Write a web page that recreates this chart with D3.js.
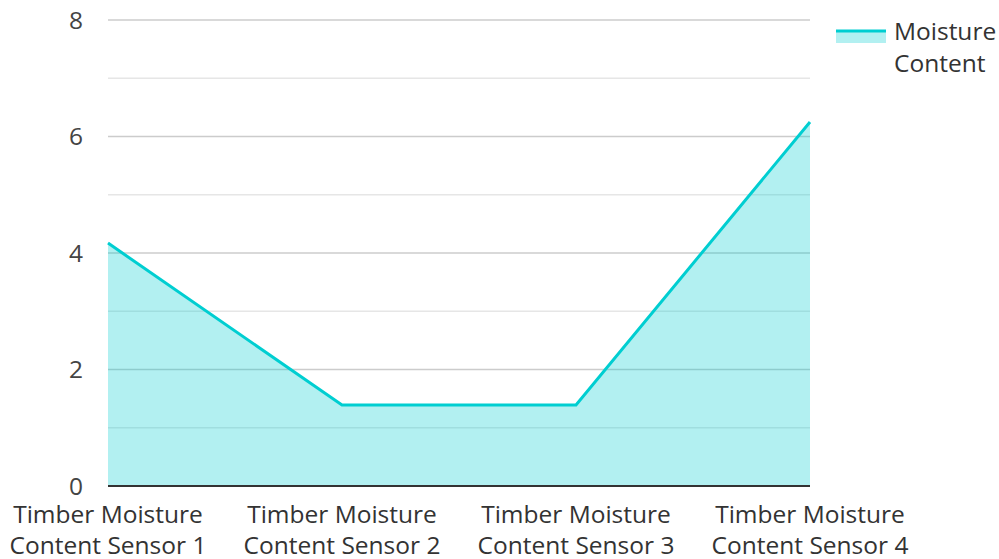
<!DOCTYPE html>
<html><head><meta charset="utf-8">
<script src="https://cdn.jsdelivr.net/npm/d3@7"></script>
<style>body{margin:0;background:#fff}svg{display:block}text{font-family:"Open Sans",sans-serif}</style>
</head><body><svg id="c" width="999" height="559"></svg>
<script>
const categories = [["Timber Moisture","Content Sensor 1"],["Timber Moisture","Content Sensor 2"],["Timber Moisture","Content Sensor 3"],["Timber Moisture","Content Sensor 4"]];
const values = [4.17, 1.39, 1.39, 6.25];
const majorTicks = [0,2,4,6,8];
const minorTicks = [1,3,5,7];
const seriesName = ["Moisture","Content"];
const color = "#00CED1";

const svg = d3.select("#c");
const x = d3.scalePoint().domain(d3.range(categories.length)).range([108,810]).padding(0);
const y = d3.scaleLinear().domain([0,8]).range([486,20]);

svg.append("g").selectAll("line").data(minorTicks).join("line")
  .attr("x1",108).attr("x2",810).attr("y1",d=>y(d)).attr("y2",d=>y(d))
  .attr("stroke","#e6e6e6").attr("stroke-width",1.5);
svg.append("g").selectAll("line").data(majorTicks.filter(d=>d>0)).join("line")
  .attr("x1",108).attr("x2",810).attr("y1",d=>y(d)).attr("y2",d=>y(d))
  .attr("stroke","#cccccc").attr("stroke-width",1.5);

const area = d3.area().x((d,i)=>x(i)).y0(y(0)).y1(d=>y(d));
svg.append("path").datum(values).attr("d",area).attr("fill",color).attr("fill-opacity",0.3);
const line = d3.line().x((d,i)=>x(i)).y(d=>y(d));
svg.append("path").datum(values).attr("d",line).attr("fill","none").attr("stroke",color).attr("stroke-width",3);

svg.append("line").attr("x1",108).attr("x2",810).attr("y1",y(0)).attr("y2",y(0)).attr("stroke","#333").attr("stroke-width",2);

svg.append("g").selectAll("text").data(majorTicks).join("text")
  .attr("x",83).attr("y",d=>y(d)).attr("dy","0.36em").attr("text-anchor","end")
  .attr("font-size",24.5).attr("fill","#444").text(d=>d);

const xl = svg.append("g").selectAll("text").data(categories).join("text")
  .attr("text-anchor","middle").attr("font-size",24.5).attr("fill","#333");
xl.each(function(d,i){
  const t=d3.select(this);
  d.forEach((s,j)=>t.append("tspan").attr("x",x(i)).attr("y",523+j*31).text(s));
});

const lg = svg.append("g");
lg.append("rect").attr("x",836).attr("y",32).attr("width",50).attr("height",11).attr("fill",color).attr("fill-opacity",0.3);
lg.append("line").attr("x1",836).attr("x2",886).attr("y1",31).attr("y2",31).attr("stroke",color).attr("stroke-width",3);
lg.append("text").attr("font-size",24.5).attr("fill","#333").selectAll("tspan").data(seriesName).join("tspan")
  .attr("x",894).attr("y",(d,i)=>40+i*32).text(d=>d);
</script></body></html>
